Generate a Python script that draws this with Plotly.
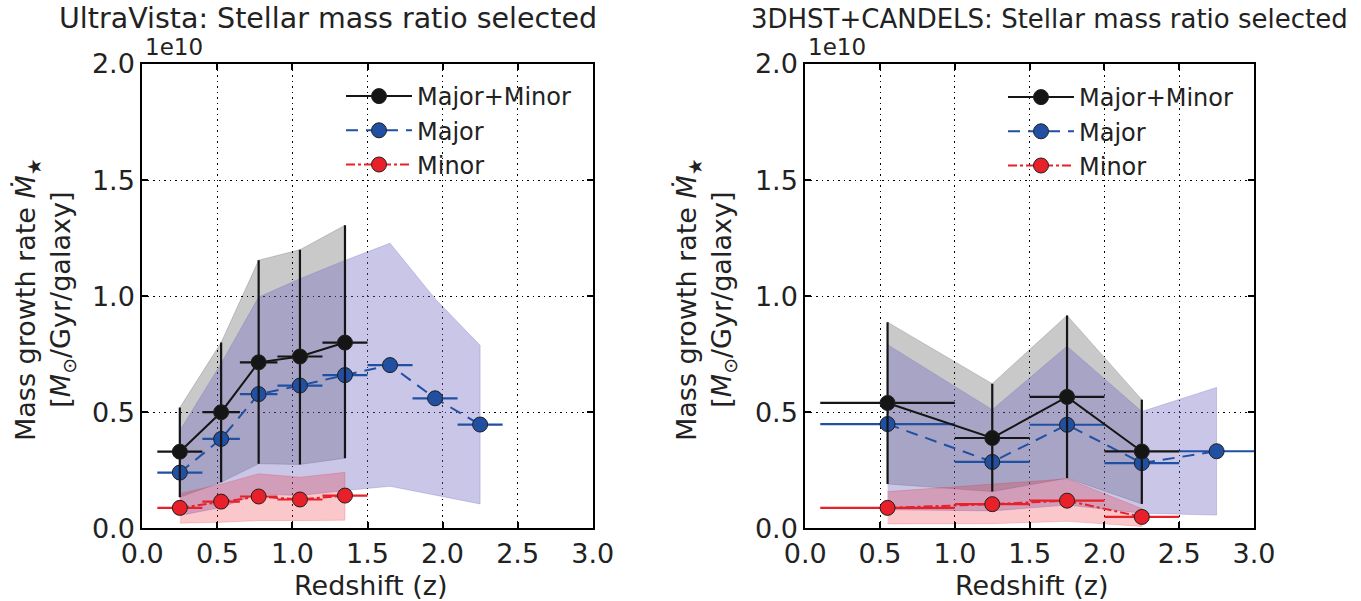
import plotly.graph_objects as go

W, H = 1361, 601

# ---------------- Data (units of 1e10 Msun/Gyr/galaxy) ----------------
# UltraVista panel
uv_z = [0.25, 0.525, 0.775, 1.05, 1.35, 1.65, 1.95, 2.25]
uv_zlo = [0.10, 0.40, 0.65, 0.90, 1.20, 1.50, 1.80, 2.10]
uv_zhi = [0.40, 0.65, 0.90, 1.20, 1.50, 1.80, 2.10, 2.40]

uv_tot = [0.33, 0.50, 0.715, 0.74, 0.80]
uv_tot_hi = [0.52, 0.80, 1.155, 1.20, 1.305]
uv_tot_lo = [0.134, 0.198, 0.278, 0.275, 0.302]

uv_major = [0.24, 0.385, 0.578, 0.615, 0.66, 0.703, 0.56, 0.447]
uv_major_hi = [0.421, 0.71, 0.996, 1.075, 1.154, 1.228, 0.989, 0.788]
uv_major_lo = [0.055, 0.09, 0.148, 0.141, 0.163, 0.181, 0.143, 0.105]

uv_minor = [0.088, 0.115, 0.137, 0.124, 0.141]
uv_minor_hi = [0.15, 0.19, 0.235, 0.22, 0.241]
uv_minor_lo = [0.022, 0.026, 0.033, 0.033, 0.035]

# 3DHST+CANDELS panel
cd_z = [0.55, 1.25, 1.75, 2.25, 2.75]
cd_zlo = [0.10, 1.00, 1.50, 2.00, 2.50]
cd_zhi = [1.00, 1.50, 2.00, 2.50, 3.00]

cd_tot = [0.54, 0.389, 0.566, 0.331]
cd_tot_hi = [0.888, 0.623, 0.917, 0.554]
cd_tot_lo = [0.191, 0.158, 0.216, 0.105]

cd_major = [0.449, 0.286, 0.446, 0.281, 0.332]
cd_major_hi = [0.791, 0.511, 0.784, 0.503, 0.607]
cd_major_lo = [0.08, 0.075, 0.10, 0.065, 0.057]

cd_minor = [0.088, 0.104, 0.119, 0.049]
cd_minor_hi = [0.158, 0.19, 0.213, 0.085]
cd_minor_lo = [0.019, 0.02, 0.03, 0.008]

x_ticks = [0.0, 0.5, 1.0, 1.5, 2.0, 2.5, 3.0]
y_ticks = [0.0, 0.5, 1.0, 1.5, 2.0]

titles = ["UltraVista: Stellar mass ratio selected",
          "3DHST+CANDELS: Stellar mass ratio selected"]
series_names = ["Major+Minor", "Major", "Minor"]

# ---------------- Styling ----------------
FONT = "DejaVu Sans"
TXT = "#222222"
C_BLACK = "#151515"
C_BLUE = "#2150a3"
C_RED = "#e8202a"
F_GRAY = "rgba(0,0,0,0.21)"
F_BLUE = "rgba(112,106,192,0.38)"
F_RED = "rgba(235,35,45,0.25)"


def px(x):
    return x / W


def py(y):
    return (H - y) / H


fig = go.Figure()


def band(xs, lo, hi, color, xa, ya):
    fig.add_trace(go.Scatter(
        x=list(xs) + list(xs)[::-1], y=list(hi) + list(lo)[::-1],
        fill="toself", fillcolor=color, mode="lines",
        line=dict(width=0.8, color=color), hoverinfo="skip",
        showlegend=False, xaxis=xa, yaxis=ya))


def series(xs, ys, xlo, xhi, color, dash, name, xa, ya, legend, show,
           ylo=None, yhi=None):
    ex = dict(type="data", symmetric=False,
              array=[h - x for h, x in zip(xhi, xs)],
              arrayminus=[x - l for l, x in zip(xlo, xs)],
              color=color, thickness=2.2, width=0)
    ey = None
    if ylo is not None:
        ey = dict(type="data", symmetric=False,
                  array=[h - y for h, y in zip(yhi, ys)],
                  arrayminus=[y - l for l, y in zip(ylo, ys)],
                  color=color, thickness=2.2, width=0)
    fig.add_trace(go.Scatter(
        x=xs, y=ys, mode="lines+markers", name=name,
        line=dict(color=color, width=2, dash=dash),
        marker=dict(color=color, size=15, line=dict(color="#202020", width=1)),
        error_x=ex, error_y=ey, xaxis=xa, yaxis=ya,
        legend=legend, legendgroup=legend + name, showlegend=show))


# ---- Left panel ----
n_t, n_m = len(uv_tot), len(uv_minor)
band(uv_z[:n_t], uv_tot_lo, uv_tot_hi, F_GRAY, "x", "y")
band(uv_z, uv_major_lo, uv_major_hi, F_BLUE, "x", "y")
band(uv_z[:n_m], uv_minor_lo, uv_minor_hi, F_RED, "x", "y")
series(uv_z[:n_m], uv_minor, uv_zlo[:n_m], uv_zhi[:n_m], C_RED, "dashdot",
       series_names[2], "x", "y", "legend", True)
series(uv_z, uv_major, uv_zlo, uv_zhi, C_BLUE, "12px,8px",
       series_names[1], "x", "y", "legend", True)
series(uv_z[:n_t], uv_tot, uv_zlo[:n_t], uv_zhi[:n_t], C_BLACK, "solid",
       series_names[0], "x", "y", "legend", True, uv_tot_lo, uv_tot_hi)

# ---- Right panel ----
n_t, n_m = len(cd_tot), len(cd_minor)
band(cd_z[:n_t], cd_tot_lo, cd_tot_hi, F_GRAY, "x2", "y2")
band(cd_z, cd_major_lo, cd_major_hi, F_BLUE, "x2", "y2")
band(cd_z[:n_m], cd_minor_lo, cd_minor_hi, F_RED, "x2", "y2")
series(cd_z[:n_m], cd_minor, cd_zlo[:n_m], cd_zhi[:n_m], C_RED, "dashdot",
       series_names[2], "x2", "y2", "legend2", True)
series(cd_z, cd_major, cd_zlo, cd_zhi, C_BLUE, "12px,8px",
       series_names[1], "x2", "y2", "legend2", True)
series(cd_z[:n_t], cd_tot, cd_zlo[:n_t], cd_zhi[:n_t], C_BLACK, "solid",
       series_names[0], "x2", "y2", "legend2", True, cd_tot_lo, cd_tot_hi)

axis_common = dict(
    showline=True, mirror="allticks", linecolor="black", linewidth=2,
    ticks="inside", ticklen=6, tickwidth=1.5, tickcolor="black",
    showgrid=True, gridcolor="black", griddash="1.5px,4px", gridwidth=1,
    zeroline=False, tickfont=dict(family=FONT, size=27, color=TXT),
    tickformat=".1f", automargin=False,
)

yd = [py(528.3), py(64)]
leg_common = dict(xanchor="left", yanchor="top", bgcolor="rgba(0,0,0,0)",
                  font=dict(family=FONT, size=24, color=TXT),
                  traceorder="reversed", tracegroupgap=4, itemwidth=66)
fig.update_layout(
    width=W, height=H, plot_bgcolor="white", paper_bgcolor="white",
    margin=dict(l=0, r=0, t=0, b=0, autoexpand=False),
    font=dict(family=FONT, color=TXT),
    xaxis=dict(domain=[px(142.3), px(592.7)], range=[0, 3], tickvals=x_ticks,
               anchor="y", **axis_common),
    yaxis=dict(domain=yd, range=[0, 2], tickvals=y_ticks, anchor="x",
               **axis_common),
    xaxis2=dict(domain=[px(805.3), px(1254)], range=[0, 3], tickvals=x_ticks,
                anchor="y2", **axis_common),
    yaxis2=dict(domain=yd, range=[0, 2], tickvals=y_ticks, anchor="x2",
                **axis_common),
    legend=dict(x=px(341), y=py(74), **leg_common),
    legend2=dict(x=px(1003), y=py(75), **leg_common),
)

ylab = ("Mass growth rate <i>Ṁ</i><sub>★</sub><br>"
        "[<i>M</i><sub>⊙</sub>/Gyr/galaxy]")
ann = []
for tx, tsize, cx, axc, ylx, ox in [(titles[0], 28.5, 328, 370, 45, 143),
                                    (titles[1], 26, 1049, 1031, 706, 806)]:
    ann.append(dict(text=tx, x=px(cx), y=py(19), xref="paper", yref="paper",
                    xanchor="center", yanchor="middle", showarrow=False,
                    font=dict(family=FONT, size=tsize, color=TXT)))
    ann.append(dict(text="Redshift (z)", x=px(axc), y=py(585), xref="paper",
                    yref="paper", xanchor="center", yanchor="middle",
                    showarrow=False, font=dict(family=FONT, size=27, color=TXT)))
    ann.append(dict(text=ylab, x=px(ylx), y=py(300), xref="paper", yref="paper",
                    xanchor="center", yanchor="middle", textangle=-90,
                    showarrow=False, font=dict(family=FONT, size=27, color=TXT)))
    ann.append(dict(text="1e10", x=px(ox), y=py(47), xref="paper", yref="paper",
                    xanchor="left", yanchor="middle", showarrow=False,
                    font=dict(family=FONT, size=23, color=TXT)))
fig.update_layout(annotations=ann)

# Remove the browser's default 8px body margin so the figure sits at (0, 0).
fig.write_html("out.html",
               config={"displayModeBar": False},
               post_script="document.body.style.margin='0px';"
                           "document.body.style.overflow='hidden';")
